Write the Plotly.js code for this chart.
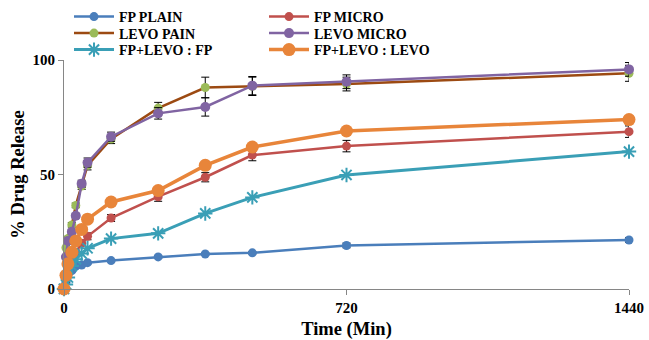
<!DOCTYPE html>
<html><head><meta charset="utf-8">
<script src="https://cdn.plot.ly/plotly-3.0.1.min.js"></script>
<style>html,body{margin:0;padding:0;background:#fff}#chart{width:649px;height:340px}</style>
</head><body><div id="chart"></div>
<script>
const timeMin = [0, 5, 10, 20, 30, 45, 60, 120, 240, 360, 480, 720, 1440];
const fpPlain = [0, 3, 6, 8, 10, 10.5, 11.5, 12.4, 14, 15.3, 15.8, 19, 21.4];
const fpPlainErr = [0, 0.5, 0.5, 0.5, 0.5, 0.5, 0.5, 0.5, 0.5, 0.5, 0.5, 1, 1];
const fpMicro = [0, 4, 8, 12, 16, 20, 23, 31, 40.3, 48.8, 58.5, 62.4, 68.7];
const fpMicroErr = [0, 1, 1, 1, 1, 1, 1.5, 1.5, 2, 2, 2.5, 2.5, 2.5];
const levoPain = [0, 18, 22, 28, 36.5, 45, 54, 65.5, 79, 88, 88.5, 89.5, 94.2];
const levoPainErr = [0, 1, 1, 1, 1, 1.5, 2, 2, 2.5, 4.5, 4, 3, 3.5];
const levoMicro = [0, 14, 21, 25, 32, 46, 55.2, 66.5, 76.7, 79.5, 88.8, 90.5, 95.9];
const levoMicroErr = [0, 1, 1, 1, 1, 1.5, 2, 2, 2.5, 4, 4, 3, 3];
const comboFp = [0, 2, 5, 10, 13, 15.5, 17.8, 22, 24.3, 33, 40, 49.8, 60];
const comboLevo = [0, 6, 11, 16, 21, 26, 30.5, 38, 43, 54, 62, 69, 74];
const names = ['FP PLAIN', 'FP MICRO', 'LEVO PAIN', 'LEVO MICRO', 'FP+LEVO : FP', 'FP+LEVO : LEVO'];

const font = {family: '"Liberation Serif", "Times New Roman", serif', color: '#000', weight: 700};
function eb(arr){return {type:'data', array:arr, visible:true, color:'#000', thickness:1, width:4};}

const traces = [
  {x: timeMin, y: fpPlain, name: names[0], legend: 'legend', error_y: eb(fpPlainErr),
   line: {color: '#4A7EBB', width: 2.5}, marker: {color: '#4A7EBB', size: 9}},
  {x: timeMin, y: fpMicro, name: names[1], legend: 'legend2', error_y: eb(fpMicroErr),
   line: {color: '#C0504D', width: 2.5}, marker: {color: '#C0504D', size: 9}},
  {x: timeMin, y: levoPain, name: names[2], legend: 'legend3', error_y: eb(levoPainErr),
   line: {color: '#9C4A12', width: 2.5}, marker: {color: '#9BBB59', size: 9}},
  {x: timeMin, y: levoMicro, name: names[3], legend: 'legend4', error_y: eb(levoMicroErr),
   line: {color: '#8064A2', width: 2.5}, marker: {color: '#8064A2', size: 10}},
  {x: timeMin, y: comboFp, name: names[4], legend: 'legend5',
   line: {color: '#3A9FB6', width: 3}, marker: {color: '#3A9FB6', size: 12, symbol: 'asterisk-open', line: {color: '#3A9FB6', width: 2}}},
  {x: timeMin, y: comboLevo, name: names[5], legend: 'legend6',
   line: {color: '#E8853A', width: 3.5}, marker: {color: '#E8853A', size: 13}}
].map(t => Object.assign({type: 'scatter', mode: 'lines+markers', cliponaxis: false}, t));

const legendBase = {orientation: 'v', xref: 'paper', yref: 'paper', xanchor: 'left', yanchor: 'middle',
  bgcolor: 'rgba(0,0,0,0)', font: Object.assign({size: 14}, font), tracegroupgap: 0, itemwidth: 40};
function px2x(p){return (p - 64) / 565;}
function py2y(p){return (289 - p) / 229;}
const col1 = px2x(69), col2 = px2x(264);
const rows = [py2y(17), py2y(33.5), py2y(50)];

const layout = {
  width: 649, height: 340,
  margin: {l: 64, r: 20, t: 60, b: 51, autoexpand: false},
  paper_bgcolor: '#fff', plot_bgcolor: '#fff',
  font: font,
  showlegend: true,
  legend: Object.assign({}, legendBase, {x: col1, y: rows[0]}),
  legend2: Object.assign({}, legendBase, {x: col2, y: rows[0]}),
  legend3: Object.assign({}, legendBase, {x: col1, y: rows[1]}),
  legend4: Object.assign({}, legendBase, {x: col2, y: rows[1]}),
  legend5: Object.assign({}, legendBase, {x: col1, y: rows[2]}),
  legend6: Object.assign({}, legendBase, {x: col2, y: rows[2]}),
  xaxis: {range: [0, 1440], tickvals: [0, 720, 1440], ticktext: ['0', '720', '1440'],
    showgrid: false, zeroline: false, showline: true, linecolor: '#868686', linewidth: 1,
    ticks: 'outside', ticklen: 5, tickcolor: '#868686', tickfont: Object.assign({size: 15}, font),
    title: {text: 'Time (Min)', font: Object.assign({size: 18.5}, font), standoff: 7}},
  yaxis: {range: [0, 100], tickvals: [0, 50, 100], showgrid: false, zeroline: false,
    showline: true, linecolor: '#868686', linewidth: 1, ticks: 'outside', ticklen: 5, tickcolor: '#868686',
    tickfont: Object.assign({size: 15}, font),
    title: {text: '% Drug Release', font: Object.assign({size: 18.5}, font), standoff: 3}}
};
Plotly.newPlot('chart', traces, layout, {displayModeBar: false, staticPlot: true});
</script></body></html>
